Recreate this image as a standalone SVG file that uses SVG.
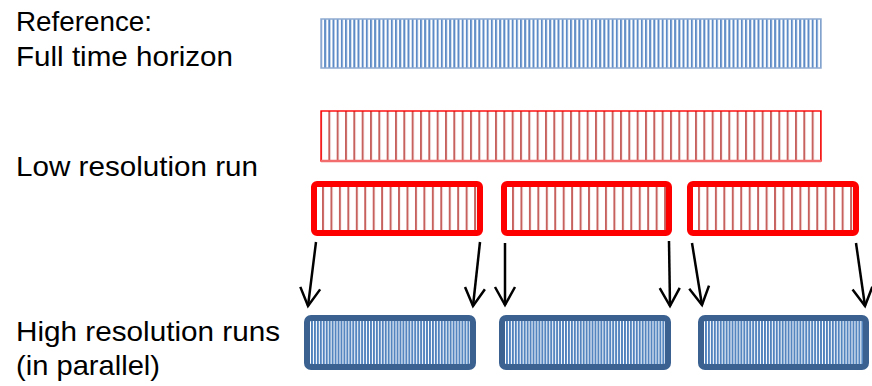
<svg xmlns="http://www.w3.org/2000/svg" width="872" height="386" viewBox="0 0 872 386">
  <style>
    .label { font-family: "Liberation Sans", Arial, sans-serif; font-size: 28px; fill: #000; }
    .arrow { fill: none; stroke: #000; stroke-width: 2.5; marker-end: url(#chevron); }
    .ref-frame { fill: url(#hatch-ref); stroke: #8FAAD0; stroke-width: 1.5; }
    .low-frame { fill: url(#hatch-low); stroke: #FF0000; stroke-width: 1.4; }
    .low-box { fill: url(#hatch-low-box); stroke: #FF0000; stroke-width: 6; }
    .high-box { fill: url(#hatch-high); stroke: #3B6191; stroke-width: 6; }
  </style>
  <defs>
    <!-- full horizon: 120 steps over 500 px -->
    <pattern id="hatch-ref" patternUnits="userSpaceOnUse" x="-1" y="0" width="4.1667" height="60">
      <rect x="0" y="0" width="4.1667" height="60" fill="#fff"/>
      <rect x="0" y="0" width="2" height="60" fill="#5B8AC6"/>
    </pattern>
    <!-- low resolution: 60 steps over 500 px -->
    <pattern id="hatch-low" patternUnits="userSpaceOnUse" x="-1" y="0" width="8.3333" height="60">
      <rect x="0" y="0" width="8.3333" height="60" fill="#fff"/>
      <rect x="0" y="0" width="2" height="60" fill="#C0504D" opacity="0.9"/>
    </pattern>
    <pattern id="hatch-low-box" patternUnits="userSpaceOnUse" x="11" y="0" width="8.45" height="60">
      <rect x="0" y="0" width="8.45" height="60" fill="#fff"/>
      <rect x="0" y="0" width="2" height="60" fill="#C0504D" opacity="0.9"/>
    </pattern>
    <!-- high resolution: dense steps -->
    <pattern id="hatch-high" patternUnits="userSpaceOnUse" x="7" y="0" width="2.95" height="60">
      <rect x="0" y="0" width="2.95" height="60" fill="#fff"/>
      <rect x="0" y="0" width="1.9" height="60" fill="#4F81BD"/>
    </pattern>
    <marker id="chevron" markerUnits="userSpaceOnUse" orient="auto" refX="0" refY="0" markerWidth="40" markerHeight="40" overflow="visible">
      <path d="M-18,-10 L0,0 L-18,10" fill="none" stroke="#000" stroke-width="2.5"/>
    </marker>
  </defs>

  <!-- labels -->
  <g id="label-reference">
    <text class="label" x="16" y="31" textLength="136" lengthAdjust="spacingAndGlyphs">Reference:</text>
    <text class="label" x="16" y="66" textLength="217" lengthAdjust="spacingAndGlyphs">Full time horizon</text>
  </g>
  <g id="label-low">
    <text class="label" x="16" y="176" textLength="242" lengthAdjust="spacingAndGlyphs">Low resolution run</text>
  </g>
  <g id="label-high">
    <text class="label" x="16" y="341" textLength="264" lengthAdjust="spacingAndGlyphs">High resolution runs</text>
    <text class="label" x="16" y="375" textLength="144" lengthAdjust="spacingAndGlyphs">(in parallel)</text>
  </g>

  <!-- full horizon reference bar -->
  <g id="reference-bar" transform="translate(321,19)">
    <rect class="ref-frame" x="0" y="0" width="500" height="49"/>
  </g>

  <!-- low resolution run over the full horizon -->
  <g id="low-res-bar" transform="translate(321,111)">
    <rect class="low-frame" x="0" y="0" width="500" height="50"/>
    <line x1="0" y1="50" x2="500" y2="50" stroke="#F26D6D" stroke-width="2.4"/>
  </g>

  <!-- low resolution segments -->
  <g id="low-res-run-1" transform="translate(311,181)">
    <rect class="low-box" x="3" y="3" width="166" height="49" rx="3"/>
  </g>
  <g id="low-res-run-2" transform="translate(501,181)">
    <rect class="low-box" x="3" y="3" width="165" height="49" rx="3"/>
  </g>
  <g id="low-res-run-3" transform="translate(687,181)">
    <rect class="low-box" x="3" y="3" width="166" height="49" rx="3"/>
  </g>

  <!-- high resolution runs -->
  <g id="high-res-run-1" transform="translate(304,315)">
    <rect class="high-box" x="3" y="3" width="166" height="49" rx="4"/>
  </g>
  <g id="high-res-run-2" transform="translate(499,315)">
    <rect class="high-box" x="3" y="3" width="166" height="49" rx="4"/>
  </g>
  <g id="high-res-run-3" transform="translate(698,315)">
    <rect class="high-box" x="3" y="3" width="165" height="49" rx="4"/>
  </g>

  <!-- connectors: segment boundaries handed to the high resolution runs -->
  <g id="connectors">
    <path class="arrow" d="M316,242 L308,306"/>
    <path class="arrow" d="M480,242 L473,306"/>
    <path class="arrow" d="M505,243 L505,305"/>
    <path class="arrow" d="M669,241 L670,306"/>
    <path class="arrow" d="M692,243 L702,305"/>
    <path class="arrow" d="M856,243 L865,306"/>
  </g>
</svg>
